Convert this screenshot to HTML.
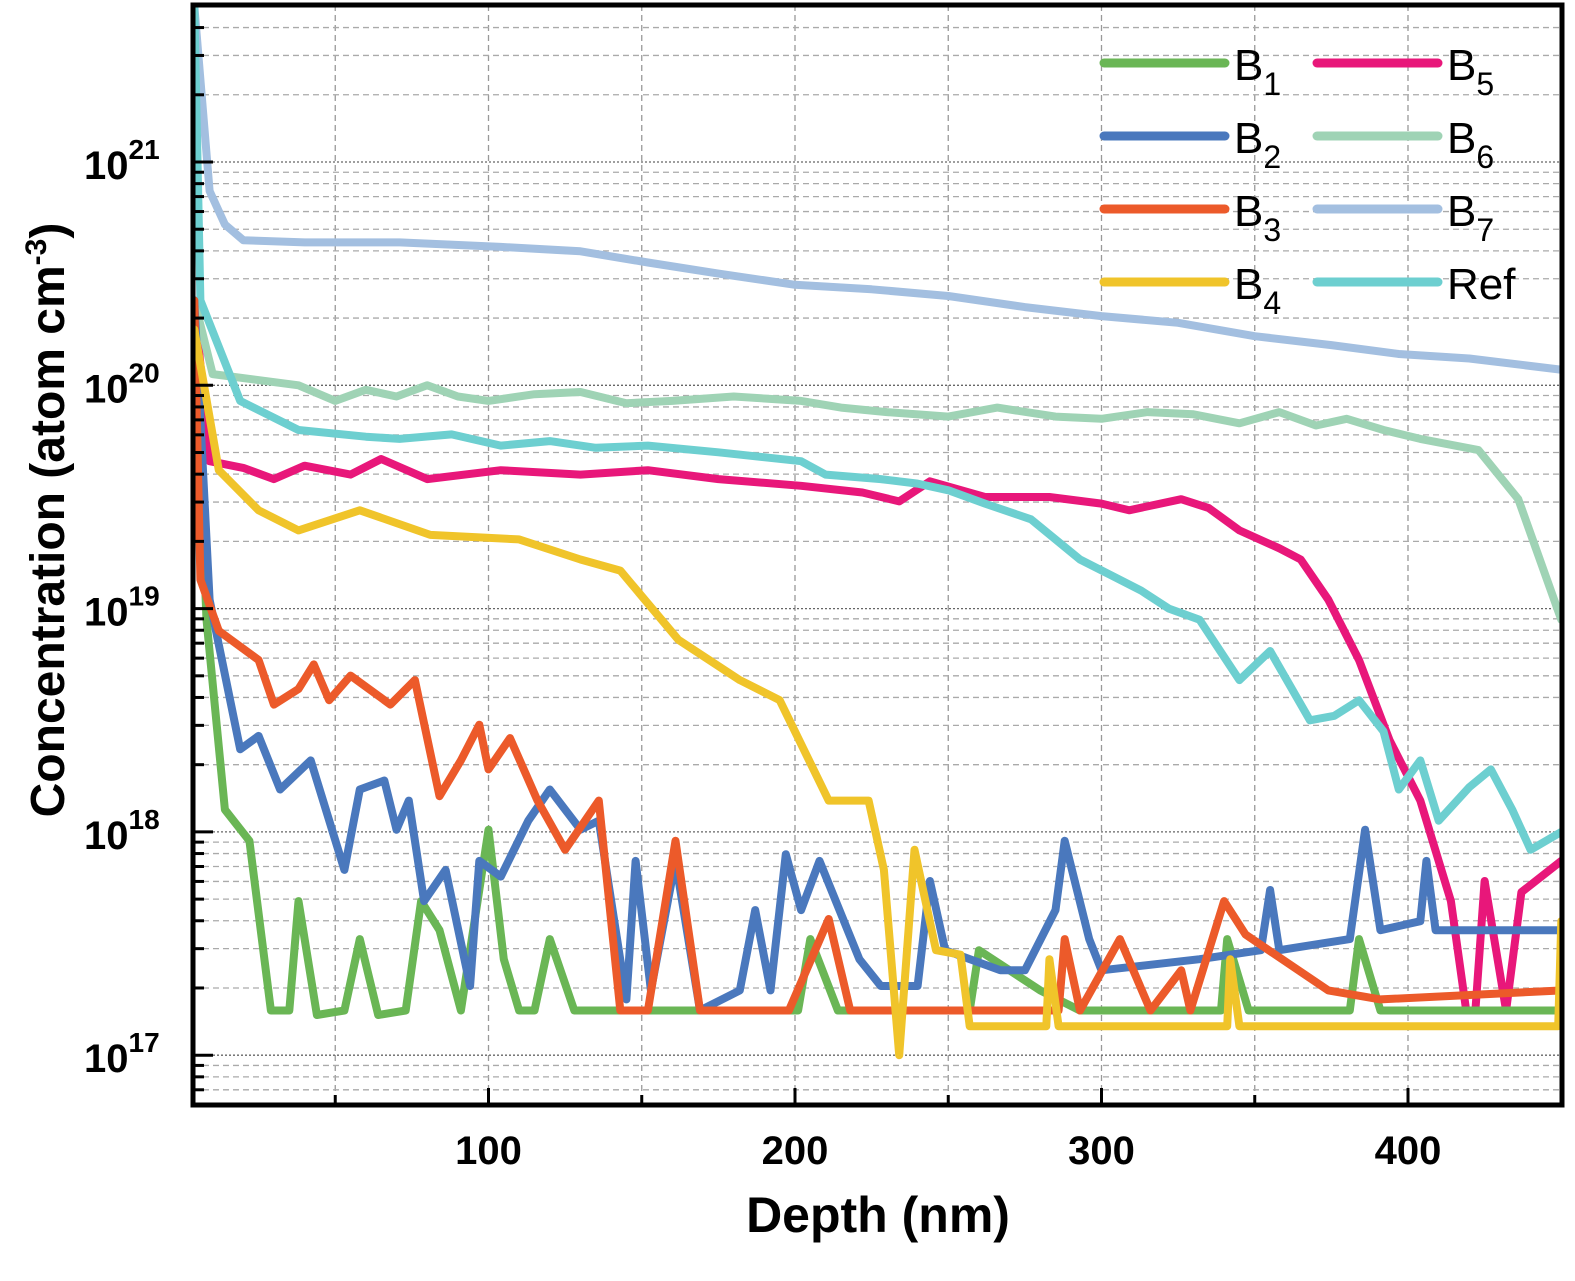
<!DOCTYPE html>
<html><head><meta charset="utf-8"><style>
html,body{margin:0;padding:0;background:#fff;}
svg{display:block;font-family:"Liberation Sans",Arial,sans-serif;}
</style></head><body>
<svg id="chart" width="1575" height="1281" viewBox="0 0 1575 1281">
<defs><clipPath id="plotclip"><rect x="195" y="7" width="1365" height="1096"/></clipPath></defs>
<g id="grid"></g>
<g id="series" clip-path="url(#plotclip)"></g>
<rect x="193" y="5" width="1369" height="1100" fill="none" stroke="#000" stroke-width="5"/>
<g id="axes"></g>
<text x="878" y="1232" font-size="50" font-weight="bold" text-anchor="middle">Depth (nm)</text>
<text transform="translate(64,520) rotate(-90)" font-size="48" font-weight="bold" text-anchor="middle">Concentration (atom cm<tspan dy="-18" font-size="30">-3</tspan><tspan dy="18">)</tspan></text>
<g id="legend"></g>
</svg>
<script>
const xTicks=[100,200,300,400];
const yDecades=[17,18,19,20,21];
const seriesNames=["B1","B2","B3","B4","B5","B6","B7","Ref"];
const seriesColors=["#6ab655","#4a78bd","#ec5a2a","#f0c42a","#e8177a","#9fd3b5","#a3bfe0","#6dcfd0"];
const d_B7=[4,9,14,20,40,71,104,130,152,175,200,225,250,275,300,325,350,375,397,420,450];
const c_B7=[21.7,20.87,20.72,20.65,20.64,20.64,20.62,20.6,20.55,20.5,20.45,20.43,20.40,20.35,20.31,20.28,20.22,20.18,20.14,20.12,20.07];
const d_B6=[4,10,38,50,60,70,80,90,100,115,130,145,160,180,202,215,230,250,266,285,300,315,330,345,358,370,380,392,404,423,436,450];
const c_B6=[20.38,20.05,20.0,19.93,19.98,19.95,20.0,19.95,19.93,19.96,19.97,19.92,19.93,19.95,19.93,19.9,19.88,19.86,19.9,19.86,19.85,19.88,19.87,19.83,19.88,19.82,19.85,19.8,19.76,19.71,19.49,18.95];
const d_Ref=[4,6,19,38,60,71,88,104,120,135,152,175,202,210,228,240,250,262,277,293,303,313,322,332,345,355,368,376,384,392,397,404,410,420,427,434,440,450];
const c_Ref=[21.7,20.38,19.93,19.8,19.77,19.76,19.78,19.73,19.75,19.72,19.73,19.7,19.66,19.6,19.58,19.56,19.53,19.47,19.4,19.22,19.15,19.08,19.0,18.95,18.68,18.81,18.5,18.52,18.59,18.45,18.19,18.32,18.05,18.2,18.28,18.1,17.92,18.0];
const d_B5=[4,9,20,30,40,55,65,80,104,130,152,175,202,222,234,244,262,283,300,309,326,335,345,358,365,374,384,394,404,414,419,422,425,432,437,450];
const c_B5=[20.38,19.66,19.63,19.58,19.64,19.6,19.67,19.58,19.62,19.6,19.62,19.58,19.55,19.52,19.48,19.57,19.5,19.5,19.47,19.44,19.49,19.45,19.35,19.27,19.22,19.04,18.77,18.41,18.14,17.69,17.2,17.2,17.78,17.2,17.73,17.87];
const d_B4=[4,12,25,38,58,81,110,130,143,162,182,195,211,224,229,234,239,246,254,257,282,283,286,341,342,345,449,450];
const c_B4=[20.25,19.62,19.44,19.35,19.44,19.33,19.31,19.22,19.17,18.86,18.68,18.59,18.14,18.14,17.83,17.0,17.92,17.47,17.45,17.13,17.13,17.43,17.13,17.13,17.43,17.13,17.13,17.6];
const d_B3=[4,6,12,25,30,38,43,48,55,68,76,84,91,97,100,107,116,125,136,143,152,161,169,198,211,218,231,286,288,293,306,316,326,329,340,347,374,391,450];
const c_B3=[20.38,19.13,18.9,18.77,18.57,18.64,18.75,18.59,18.7,18.57,18.68,18.16,18.32,18.48,18.28,18.42,18.14,17.92,18.14,17.2,17.2,17.96,17.2,17.2,17.61,17.2,17.2,17.2,17.52,17.2,17.52,17.2,17.38,17.2,17.69,17.54,17.29,17.25,17.29];
const d_B2=[4,9,19,25,32,42,53,58,66,70,74,79,86,94,97,104,113,120,130,136,145,148,153,161,169,182,187,192,197,202,208,221,228,240,244,249,267,275,285,288,296,300,332,352,355,358,381,386,391,404,406,409,450];
const c_B2=[20.38,19.04,18.37,18.43,18.19,18.32,17.83,18.19,18.23,18.01,18.14,17.69,17.83,17.31,17.87,17.8,18.05,18.19,18.01,18.05,17.25,17.87,17.29,17.87,17.2,17.29,17.65,17.29,17.9,17.65,17.87,17.43,17.31,17.31,17.78,17.47,17.38,17.38,17.65,17.96,17.52,17.38,17.43,17.47,17.74,17.47,17.52,18.01,17.56,17.6,17.87,17.56,17.56];
const d_B1=[4,8,14,22,29,35,38,44,53,58,64,73,78,84,91,100,105,110,115,120,128,201,205,214,257,260,280,293,339,341,348,381,384,391,450];
const c_B1=[20.3,18.95,18.1,17.96,17.2,17.2,17.69,17.18,17.2,17.52,17.18,17.2,17.69,17.56,17.2,18.01,17.43,17.2,17.2,17.52,17.2,17.2,17.52,17.2,17.2,17.47,17.29,17.2,17.2,17.52,17.2,17.2,17.52,17.2,17.2];
const depths=[d_B1,d_B2,d_B3,d_B4,d_B5,d_B6,d_B7,d_Ref];
const concs=[c_B1,c_B2,c_B3,c_B4,c_B5,c_B6,c_B7,c_Ref];

const NS="http://www.w3.org/2000/svg";
function xS(d){return 182+3.065*d;}
function yS(l){return 162+(21-l)*223.3;}
function mk(tag,attrs,parent){const e=document.createElementNS(NS,tag);for(const k in attrs)e.setAttribute(k,attrs[k]);parent.appendChild(e);return e;}
const grid=document.getElementById('grid'),axes=document.getElementById('axes'),ser=document.getElementById('series'),leg=document.getElementById('legend');
for(let d=50;d<=450;d+=50){
  const g=mk('line',{x1:xS(d),x2:xS(d),y1:5,y2:1105,stroke:'#999','stroke-width':1.3,'stroke-dasharray':'6 4'},grid);
  
  
  const t=mk('line',{x1:xS(d),x2:xS(d),y1:1105,y2:d%100===0?1088:1095,stroke:'#000','stroke-width':3},axes);
  
  
}
for(let p=16;p<=21;p++){
  for(let m=1;m<10;m++){
    const l=p+Math.log10(m);const y=yS(l);
    if(y<5||y>1105)continue;
    const g=mk('line',{x1:193,x2:1562,y1:y,y2:y,stroke:m===1?'#666':'#aaa','stroke-width':1.3,'stroke-dasharray':m===1?'2 2':'6 4'},grid);
    
    
    const t=mk('line',{x1:193,x2:m===1?213:204,y1:y,y2:y,stroke:'#000','stroke-width':3},axes);
    
    
  }
}
xTicks.forEach(v=>{
  const t=mk('text',{x:xS(v),y:1164,'font-size':40,'font-weight':'bold','text-anchor':'middle'},axes);
  t.textContent=v;
  
  
});
yDecades.forEach(p=>{
  const t=mk('text',{x:84,y:yS(p)+17,'font-size':40,'font-weight':'bold'},axes);
  t.textContent='10';
  
  
  const s=mk('tspan',{dy:-20,'font-size':28},t);s.textContent=p;
});
seriesNames.forEach((n,i)=>{
  const pts=depths[i].map((d,j)=>xS(d).toFixed(1)+','+yS(concs[i][j]).toFixed(1)).join(' ');
  const pl=mk('polyline',{points:pts,fill:'none',stroke:seriesColors[i],'stroke-width':8,'stroke-linejoin':'round','stroke-linecap':'round'},ser);
  
  
});
[6,5,7,4].forEach(i=>ser.insertBefore(ser.children[ser.children.length-1],ser.firstChild));
seriesNames.forEach((n,i)=>{
  const col=i<4?0:1,row=i%4;
  const x0=col?1317:1104,y=63+row*73;
  const l=mk('line',{x1:x0,x2:x0+121,y1:y,y2:y,stroke:seriesColors[i],'stroke-width':9,'stroke-linecap':'round'},leg);
  
  
  const t=mk('text',{x:x0+130,y:y+17,'font-size':44},leg);
  
  
  if(n==='Ref'){t.textContent='Ref';}
  else{t.textContent='B';const s=mk('tspan',{dy:15,'font-size':32},t);s.textContent=n.slice(1);}
});
</script>
</body></html>
